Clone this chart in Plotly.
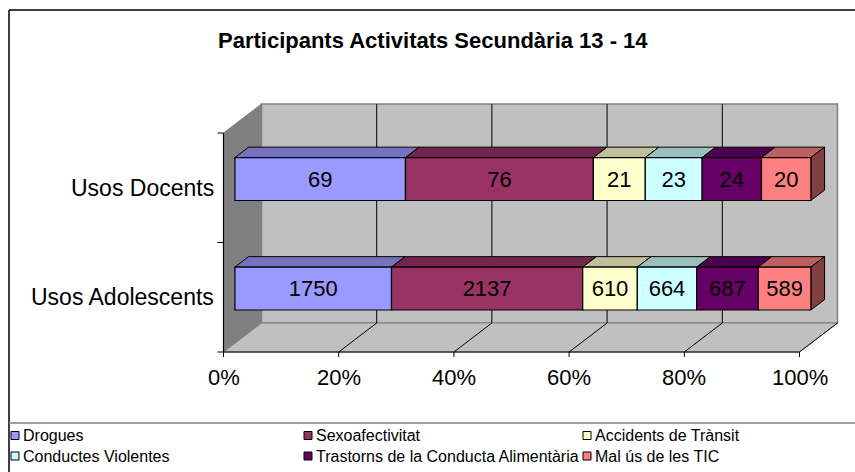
import plotly.graph_objects as go

# ---------------- data ----------------
categories = ["Usos Adolescents", "Usos Docents"]
series_names = ["Drogues", "Sexoafectivitat", "Accidents de Trànsit",
                "Conductes Violentes", "Trastorns de la Conducta Alimentària",
                "Mal ús de les TIC"]
drogues = [1750, 69]
sexoafectivitat = [2137, 76]
accidents = [610, 21]
conductes = [664, 23]
trastorns = [687, 24]
mal_us = [589, 20]
x_ticks = [0, 20, 40, 60, 80, 100]
x_tick_labels = ["0%", "20%", "40%", "60%", "80%", "100%"]
title_text = "Participants Activitats Secundària 13 - 14"

series_values = [drogues, sexoafectivitat, accidents, conductes, trastorns, mal_us]

# ---------------- styles ----------------
front_colors = ["#9999FF", "#993366", "#FFFFCC", "#CCFFFF", "#660066", "#FF8080"]
top_colors = ["#7373BF", "#73264D", "#BFBF99", "#99BFBF", "#4D004D", "#BF6060"]
side_colors = ["#4D4D80", "#4D1A33", "#808066", "#668080", "#330033", "#804040"]
FONT = "Liberation Sans, Arial, sans-serif"

W, H = 855, 472
PX0, PPX = 223.5, 5.76     # pixel x of 0 %, pixels per percent
PY0, PPY = 352.0, 109.5    # pixel y of floor front edge, pixels per category
DX, DY = 38.0 / PPX, 29.0 / PPY   # depth offset in data units
F0, F1 = 0.30, 0.66        # bar front / back depth fractions
HALF = 0.196               # half bar thickness (category units)


def path(pts):
    return "M " + " L ".join(f"{x:.4f},{y:.4f}" for x, y in pts) + " Z"


shapes = []
annotations = []

# ---- walls ----
shapes.append(dict(type="path", xref="x", yref="y", layer="below",
                   path=path([(DX, DY), (100 + DX, DY), (100 + DX, 2 + DY), (DX, 2 + DY)]),
                   fillcolor="#C0C0C0", line=dict(color="#808080", width=1.5)))
shapes.append(dict(type="path", xref="x", yref="y", layer="below",
                   path=path([(0, 0), (DX, DY), (DX, 2 + DY), (0, 2)]),
                   fillcolor="#808080", line=dict(color="#808080", width=1)))
shapes.append(dict(type="path", xref="x", yref="y", layer="below",
                   path=path([(0, 0), (100, 0), (100 + DX, DY), (DX, DY)]),
                   fillcolor="#C0C0C0", line=dict(color="#808080", width=1)))

# ---- gridlines ----
for t in x_ticks[1:-1]:
    shapes.append(dict(type="line", xref="x", yref="y", layer="below",
                       x0=t + DX, y0=DY, x1=t + DX, y1=2 + DY,
                       line=dict(color="#000000", width=1)))
for t in x_ticks[1:]:
    shapes.append(dict(type="line", xref="x", yref="y", layer="below",
                       x0=t, y0=0, x1=t + DX, y1=DY,
                       line=dict(color="#000000", width=1)))

# ---- axis lines & ticks ----
shapes.append(dict(type="line", xref="x", yref="y", x0=0, y0=0, x1=100, y1=0,
                   line=dict(color="#000000", width=1.2)))
shapes.append(dict(type="line", xref="x", yref="y", x0=0, y0=0, x1=0, y1=2,
                   line=dict(color="#000000", width=1.2)))
for t in x_ticks:
    shapes.append(dict(type="line", xref="x", yref="y", x0=t, y0=0, x1=t, y1=-5 / PPY,
                       line=dict(color="#000000", width=1)))
for k in range(len(categories) + 1):
    shapes.append(dict(type="line", xref="x", yref="y", x0=0, y0=k, x1=-6 / PPX, y1=k,
                       line=dict(color="#000000", width=1)))

# ---- tick labels ----
for t, lab in zip(x_ticks, x_tick_labels):
    annotations.append(dict(x=t, y=-25 / PPY, xref="x", yref="y", text=lab, showarrow=False,
                            xanchor="center", yanchor="middle",
                            font=dict(family=FONT, size=22, color="#000000")))
for i, cat in enumerate(categories):
    annotations.append(dict(x=-8 / PPX, y=i + 0.5, xref="x", yref="y", text=cat, showarrow=False,
                            xanchor="right", yanchor="middle",
                            font=dict(family=FONT, size=23, color="#000000")))

# ---- bars ----
totals = [sum(s[i] for s in series_values) for i in range(len(categories))]
pcts = [[v / totals[i] * 100 for i, v in enumerate(s)] for s in series_values]
cum = [0.0] * len(categories)
fig = go.Figure()
dd = F1 - F0
for si, name in enumerate(series_names):
    bases = []
    ys = []
    for ci in range(len(categories)):
        x0 = cum[ci] + F0 * DX
        x1 = x0 + pcts[si][ci]
        yc = ci + 0.5 + F0 * DY
        top = yc + HALF
        bot = yc - HALF
        bases.append(x0)
        ys.append(yc)
        # top face
        shapes.append(dict(type="path", xref="x", yref="y", layer="below",
                           path=path([(x0, top), (x1, top), (x1 + dd * DX, top + dd * DY),
                                      (x0 + dd * DX, top + dd * DY)]),
                           fillcolor=top_colors[si], line=dict(color="#000000", width=1)))
        if si == len(series_names) - 1:
            shapes.append(dict(type="path", xref="x", yref="y", layer="below",
                               path=path([(x1, bot), (x1, top), (x1 + dd * DX, top + dd * DY),
                                          (x1 + dd * DX, bot + dd * DY)]),
                               fillcolor=side_colors[si], line=dict(color="#000000", width=1)))
    fig.add_trace(go.Bar(
        name=name, orientation="h", y=ys, x=pcts[si], base=bases, width=2 * HALF,
        marker=dict(color=front_colors[si], line=dict(color="#000000", width=1.2)),
        text=[str(v) for v in series_values[si]], textposition="inside",
        insidetextanchor="middle", textangle=0, constraintext="none",
        textfont=dict(family=FONT, size=22, color="#000000"),
        hoverinfo="skip", showlegend=False))
    for ci in range(len(categories)):
        cum[ci] += pcts[si][ci]

# ---- chart border / legend box ----
shapes.append(dict(type="line", xref="paper", yref="paper", x0=9 / W, y0=1 - 10 / H, x1=1, y1=1 - 10 / H,
                   line=dict(color="#000000", width=1.5)))
shapes.append(dict(type="line", xref="paper", yref="paper", x0=9 / W, y0=1 - 10 / H, x1=9 / W, y1=0,
                   line=dict(color="#000000", width=1.5)))
shapes.append(dict(type="line", xref="paper", yref="paper", x0=9 / W, y0=1 - 423 / H, x1=1, y1=1 - 423 / H,
                   line=dict(color="#808080", width=1.5)))

# ---- title ----
annotations.append(dict(x=433 / W, y=1 - 41 / H, xref="paper", yref="paper", text=f"<b>{title_text}</b>",
                        showarrow=False, xanchor="center", yanchor="middle",
                        font=dict(family=FONT, size=22, color="#000000")))

# ---- legend (manual, Excel style) ----
col_x = [11, 304, 583]
row_y = [435.5, 456]
for i, name in enumerate(series_names):
    cx = col_x[i % 3]
    cy = row_y[i // 3]
    shapes.append(dict(type="rect", xref="paper", yref="paper",
                       x0=cx / W, x1=(cx + 8) / W, y0=1 - (cy - 4) / H, y1=1 - (cy + 4) / H,
                       fillcolor=front_colors[i], line=dict(color="#000000", width=1)))
    annotations.append(dict(x=(cx + 10) / W, y=1 - cy / H, xref="paper", yref="paper", text=name,
                            showarrow=False, xanchor="left", yanchor="middle",
                            font=dict(family=FONT, size=16, color="#000000")))

fig.update_layout(
    width=W, height=H, margin=dict(l=0, r=0, t=0, b=0),
    paper_bgcolor="#FFFFFF", plot_bgcolor="#FFFFFF",
    barmode="overlay", showlegend=False, hovermode=False,
    xaxis=dict(range=[-PX0 / PPX, (W - PX0) / PPX], visible=False, fixedrange=True),
    yaxis=dict(range=[(PY0 - H) / PPY, PY0 / PPY], visible=False, fixedrange=True),
    shapes=shapes, annotations=annotations,
)
fig.write_html("out.html", config={"displayModeBar": False, "staticPlot": True},
               post_script="document.body.style.margin='0';document.body.style.overflow='hidden';")
